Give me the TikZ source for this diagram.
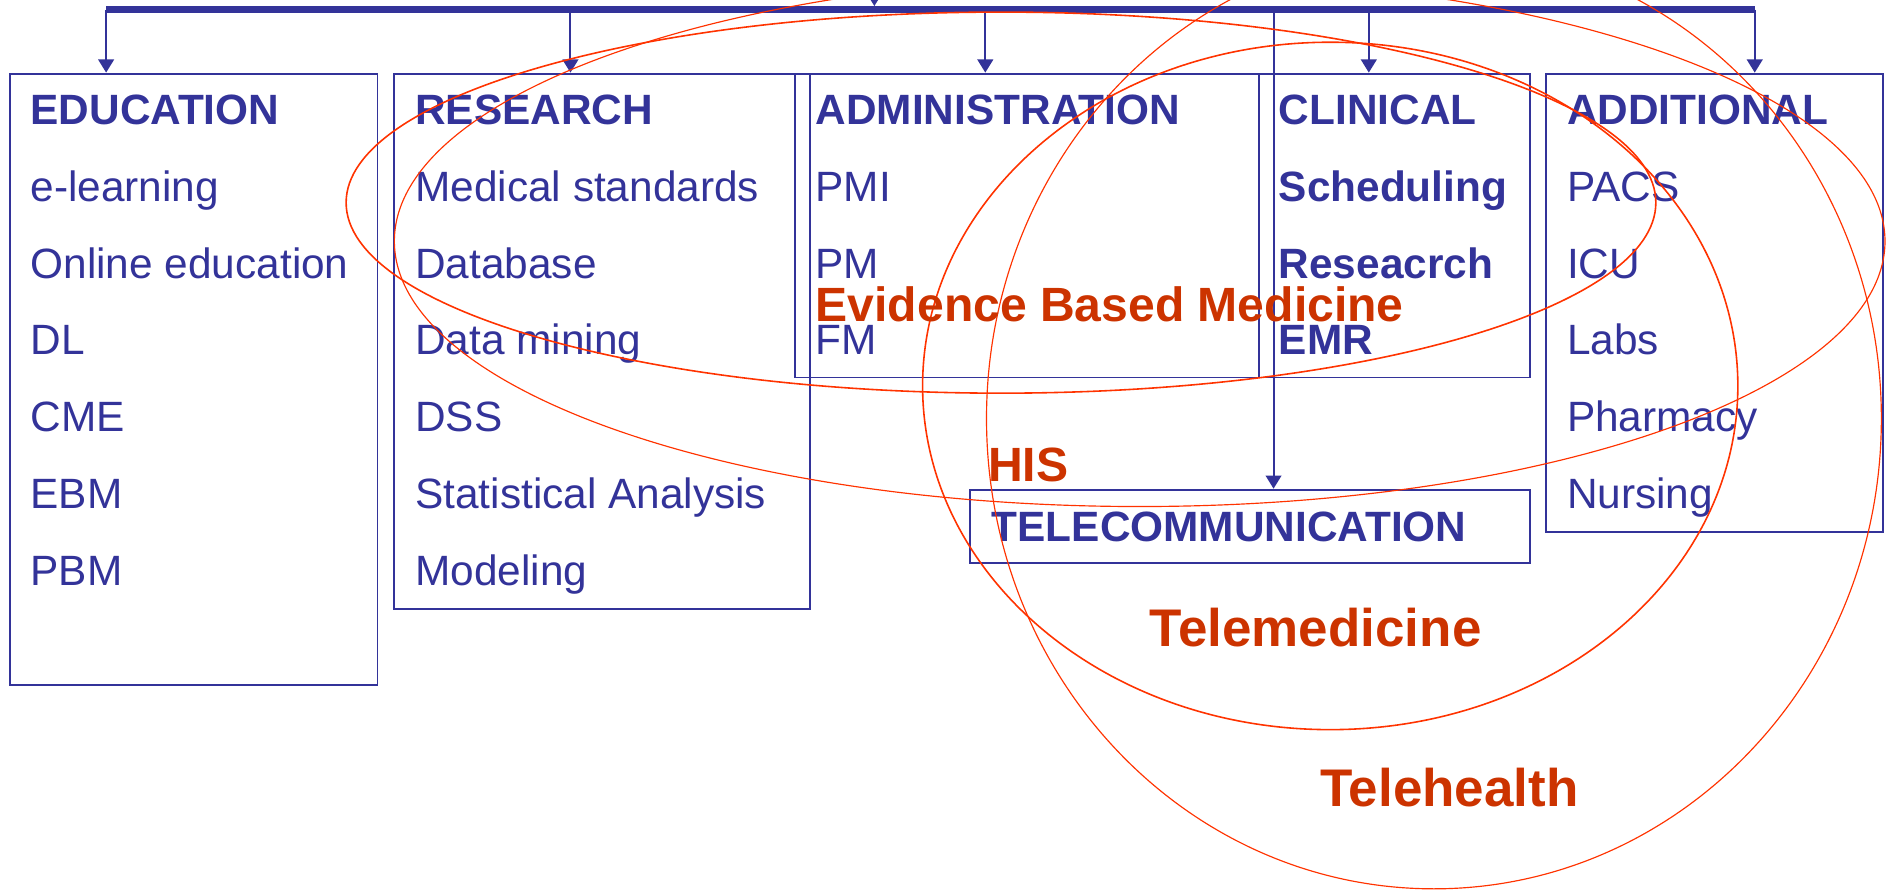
\documentclass[tikz,border=0pt]{standalone}
\usepackage{fontspec}
\setmainfont{Liberation Sans}
\usepackage{tikz}
\usetikzlibrary{arrows.meta,fit}
\definecolor{navy}{HTML}{333399}
\definecolor{rust}{HTML}{CC3300}
\definecolor{ringred}{HTML}{FF3300}

\begin{document}
\begin{tikzpicture}[x=0.02cm,y=-0.02cm,
	catbox/.style={draw=navy,line width=0.9pt,inner sep=0pt},
	entry/.style={anchor=base west,inner sep=0pt,text=navy,font=\fontsize{20}{24}\selectfont},
	header/.style={entry,font=\fontsize{20}{24}\selectfont\bfseries},
	zonelabel/.style={anchor=base west,inner sep=0pt,text=rust,font=\fontsize{22.7}{27}\selectfont\bfseries},
	biglabel/.style={zonelabel,font=\fontsize{25}{30}\selectfont\bfseries},
	zone/.style={draw=ringred,line width=0.55pt},
	feed/.style={draw=navy,line width=0.9pt,-{Triangle[length=6.2pt,width=7.4pt]}}]
			\useasboundingbox (0,0) rectangle (1568,738);
			% boxes
			\node[catbox,fit={(8,61) (313,568)}] (edu) {};
			\node[catbox,fit={(327,61) (672,505)}] (res) {};
			\node[catbox,fit={(659,61) (1044,313)}] (adm) {};
			\node[catbox,fit={(1044,61) (1269,313)}] (cli) {};
			\node[catbox,fit={(1282,61) (1561,441)}] (add) {};
			\node[catbox,fit={(804,406) (1269,467)}] (tel) {};
			% bar and feeds
			\coordinate (src) at (725,-30);
			\coordinate (hub) at (725,5);
			\coordinate (t1) at (88,8);
			\coordinate (t2) at (473,8);
			\coordinate (t3) at (817,8);
			\coordinate (t4) at (1135,8);
			\coordinate (t5) at (1455,8);
			\coordinate (t6) at (1056,8);
			\draw[feed] (src) -- (hub);
			\draw[navy,line width=3.4pt] (t1) -- (t5);
			\draw[feed] (t1) -- (t1 |- edu.north);
			\draw[feed] (t2) -- (t2 |- res.north);
			\draw[feed] (t3) -- (t3 |- adm.north);
			\draw[feed] (t4) -- (t4 |- cli.north);
			\draw[feed] (t5) -- (t5 |- add.north);
			\draw[feed] (t6) -- (t6 |- tel.north);
			% education
			\node[header] (edu0) at (25,103.5) {EDUCATION};
			\node[entry] (edu1) at (25,167.1) {e-learning};
			\node[entry] (edu2) at (25,230.7) {Online education};
			\node[entry] (edu3) at (25,294.3) {DL};
			\node[entry] (edu4) at (25,357.9) {CME};
			\node[entry] (edu5) at (25,421.5) {EBM};
			\node[entry] (edu6) at (25,485.1) {PBM};
			% research
			\node[header] (res0) at (344,103.5) {RESEARCH};
			\node[entry] (res1) at (344,167.1) {Medical standards};
			\node[entry] (res2) at (344,230.7) {Database};
			\node[entry] (res3) at (344,294.3) {Data mining};
			\node[entry] (res4) at (344,357.9) {DSS};
			\node[entry] (res5) at (344,421.5) {Statistical Analysis};
			\node[entry] (res6) at (344,485.1) {Modeling};
			% administration
			\node[header] (adm0) at (676,103.5) {ADMINISTRATION};
			\node[entry] (adm1) at (676,167.1) {PMI};
			\node[entry] (adm2) at (676,230.7) {PM};
			\node[entry] (adm3) at (676,294.3) {FM};
			% clinical
			\node[header] (cli0) at (1060,103.5) {CLINICAL};
			\node[header] (cli1) at (1060,167.1) {Scheduling};
			\node[header] (cli2) at (1060,230.7) {Reseacrch};
			\node[header] (cli3) at (1060,294.3) {EMR};
			% additional
			\node[header] (add0) at (1299,103.5) {ADDITIONAL};
			\node[entry] (add1) at (1299,167.1) {PACS};
			\node[entry] (add2) at (1299,230.7) {ICU};
			\node[entry] (add3) at (1299,294.3) {Labs};
			\node[entry] (add4) at (1299,357.9) {Pharmacy};
			\node[entry] (add5) at (1299,421.5) {Nursing};
			\node[header] (tel0) at (822,448.6) {TELECOMMUNICATION};
			% zones
			\draw[zone,line width=0.75pt] (830,168) ellipse [x radius=543,y radius=158];
			\draw[zone] (945,200) ellipse [x radius=618,y radius=220];
			\draw[zone,line width=0.75pt] (1103,320) ellipse [x radius=338,y radius=285];
			\draw[zone] (1189,347) ellipse [x radius=371,y radius=390];
			\node[zonelabel] (ebm) at (676,266.7) {Evidence Based Medicine};
			\node[zonelabel] (his) at (819,399) {HIS};
			\node[biglabel] (tmed) at (953,536) {Telemedicine};
			\node[biglabel] (thealth) at (1094.5,669) {Telehealth};
\end{tikzpicture}
\end{document}
